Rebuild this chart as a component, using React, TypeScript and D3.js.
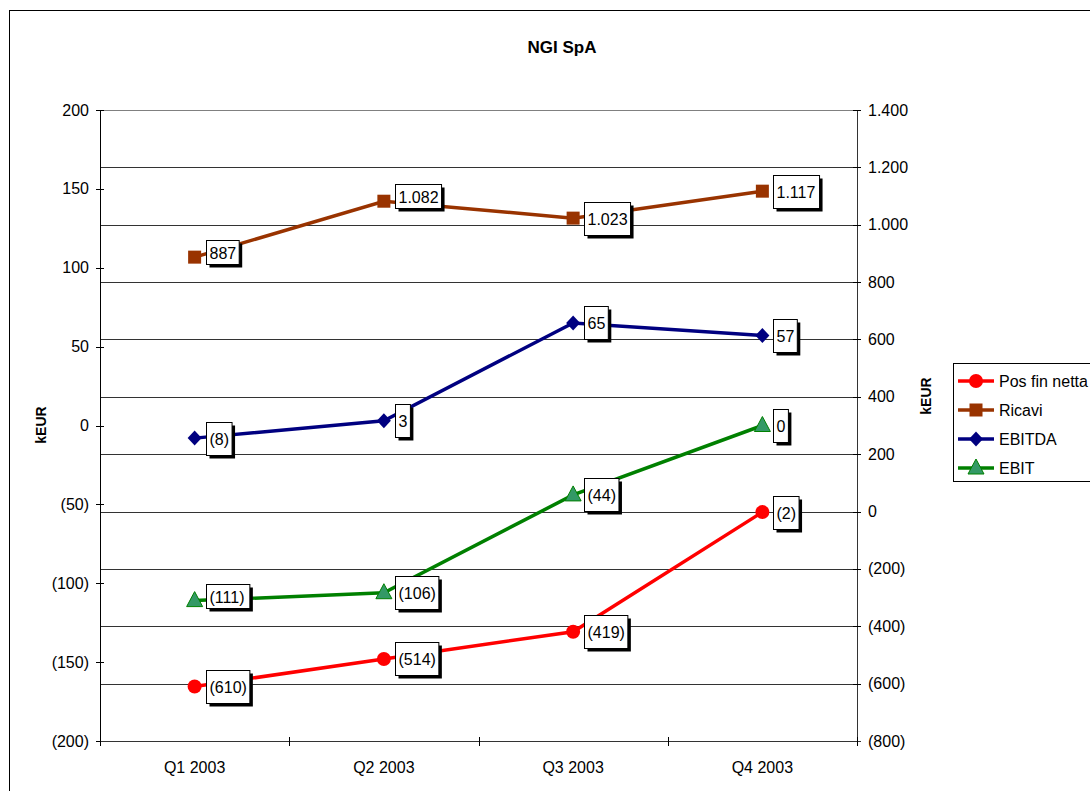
import React from "react";
import * as d3 from "d3";

const categories = ["Q1 2003", "Q2 2003", "Q3 2003", "Q4 2003"];
const posFinNetta = [-610, -514, -419, -2];
const ricavi = [887, 1082, 1023, 1117];
const ebitda = [-8, 3, 65, 57];
const ebit = [-111, -106, -44, 0];
const leftTicks = [200, 150, 100, 50, 0, -50, -100, -150, -200];
const rightTicks = [1400, 1200, 1000, 800, 600, 400, 200, 0, -200, -400, -600, -800];

const FONT = "'Liberation Sans', Arial, sans-serif";
// labels whose box is drawn compact (as in the reference rendering)
const COMPACT = new Set(["Ricavi-0", "Ricavi-1", "EBIT-0"]);

function fmt(v: number): string {
  const a = Math.abs(v);
  const s = d3.format(",")(a).replace(/,/g, ".");
  return v < 0 ? `(${s})` : s;
}

function textWidth(s: string): number {
  let w = 0;
  for (const ch of s) {
    if (ch >= "0" && ch <= "9") w += 8.9;
    else if (ch === "(" || ch === ")") w += 5.33;
    else if (ch === ".") w += 4.45;
    else w += 8.9;
  }
  return w;
}

const series = [
  { name: "Pos fin netta", values: posFinNetta, axis: "right", color: "#FF0000", marker: "circle", fill: "#FF0000" },
  { name: "Ricavi", values: ricavi, axis: "right", color: "#993300", marker: "square", fill: "#993300" },
  { name: "EBITDA", values: ebitda, axis: "left", color: "#000080", marker: "diamond", fill: "#000080" },
  { name: "EBIT", values: ebit, axis: "left", color: "#008000", marker: "triangle", fill: "#339966" },
];

function Marker({ type, x, y, color, fill }: { type: string; x: number; y: number; color: string; fill: string }) {
  if (type === "circle") return <circle cx={x} cy={y} r={7} fill={fill} />;
  if (type === "square") return <rect x={x - 6.5} y={y - 6.5} width={13} height={13} fill={fill} />;
  if (type === "diamond")
    return <path d={`M${x},${y - 7.5}L${x + 7},${y}L${x},${y + 7.5}L${x - 7},${y}Z`} fill={fill} />;
  return (
    <path
      d={`M${x},${y - 9}L${x + 8},${y + 6}L${x - 8},${y + 6}Z`}
      fill={fill}
      stroke={color}
      strokeWidth={1}
    />
  );
}

export default function App() {
  const left = 100, right = 857, top = 110, bottom = 741;
  const x = d3.scaleBand<string>().domain(categories).range([left, right]);
  const yL = d3.scaleLinear().domain([-200, 200]).range([bottom, top]);
  const yR = d3.scaleLinear().domain([-800, 1400]).range([bottom, top]);
  const cx = (c: string) => (x(c) as number) + x.bandwidth() / 2;
  const boundaries = categories.map((c) => x(c) as number).concat([right]);

  return (
    <svg width={1090} height={791} style={{ position: "absolute", left: 0, top: 0, fontFamily: FONT }}>
      <rect x={0} y={0} width={1090} height={791} fill="#fff" />
      <rect x={9.5} y={10.5} width={1200} height={900} fill="#fff" stroke="#000" strokeWidth={1} />
      <text x={562} y={53} textAnchor="middle" fontSize={17} fontWeight="bold">NGI SpA</text>

      {/* gridlines (secondary axis) */}
      {rightTicks.map((t) => (
        <line key={"g" + t} x1={left} x2={right} y1={Math.round(yR(t)) + 0.5} y2={Math.round(yR(t)) + 0.5}
          stroke={t === 1400 ? "#808080" : "#333"} strokeWidth={1} />
      ))}

      {/* left axis */}
      <line x1={left + 0.5} x2={left + 0.5} y1={top} y2={bottom} stroke="#000" />
      {leftTicks.map((t) => (
        <g key={"l" + t}>
          <line x1={96} x2={104} y1={Math.round(yL(t)) + 0.5} y2={Math.round(yL(t)) + 0.5} stroke="#000" />
          <text x={89} y={yL(t) + 5.5} textAnchor="end" fontSize={16}>{fmt(t)}</text>
        </g>
      ))}
      {/* right axis */}
      <line x1={right + 0.5} x2={right + 0.5} y1={top} y2={bottom} stroke="#333" />
      {rightTicks.map((t) => (
        <g key={"r" + t}>
          <line x1={853} x2={861} y1={Math.round(yR(t)) + 0.5} y2={Math.round(yR(t)) + 0.5} stroke="#000" />
          <text x={868} y={yR(t) + 5.5} textAnchor="start" fontSize={16}>{fmt(t)}</text>
        </g>
      ))}
      {/* bottom axis */}
      <line x1={left} x2={right + 4} y1={bottom + 0.5} y2={bottom + 0.5} stroke="#333" />
      {boundaries.map((b, i) => (
        <line key={"b" + i} x1={Math.round(b) + 0.5} x2={Math.round(b) + 0.5} y1={bottom - 4} y2={bottom + 5} stroke="#000" />
      ))}
      {categories.map((c) => (
        <text key={c} x={cx(c)} y={773} textAnchor="middle" fontSize={16}>{c}</text>
      ))}

      {/* axis titles */}
      <text transform={`translate(46,425) rotate(-90)`} textAnchor="middle" fontSize={14} fontWeight="bold">kEUR</text>
      <text transform={`translate(931,396) rotate(-90)`} textAnchor="middle" fontSize={14} fontWeight="bold">kEUR</text>

      {/* series */}
      {series.map((s) => {
        const y = s.axis === "left" ? yL : yR;
        const line = d3.line<number>().x((_, i) => cx(categories[i])).y((v) => y(v));
        return (
          <g key={s.name}>
            <path d={line(s.values) || ""} fill="none" stroke={s.color} strokeWidth={3.5} />
            {s.values.map((v, i) => (
              <Marker key={i} type={s.marker} x={cx(categories[i])} y={y(v)} color={s.color} fill={s.fill} />
            ))}
          </g>
        );
      })}
      {/* data labels */}
      {series.map((s) => {
        const y = s.axis === "left" ? yL : yR;
        return (
          <g key={"lab" + s.name}>
            {s.values.map((v, i) => {
              const label = fmt(v);
              const w = textWidth(label) + 6;
              const compact = COMPACT.has(`${s.name}-${i}`);
              const py = y(v);
              const h = compact ? 24 : 33;
              const bx = Math.round(cx(categories[i]) + 11) + 0.5;
              const by = compact ? Math.round(py - 17) + 0.5 : Math.round(py - h / 2) + 0.5;
              const ty = compact ? by + 18 : by + h / 2 + 5.5;
              return (
                <g key={i}>
                  <rect x={bx + 3} y={by + 3} width={w} height={h} fill="#000" />
                  <rect x={bx} y={by} width={w} height={h} fill="#fff" stroke="#000" strokeWidth={1} />
                  <text x={bx + 3} y={ty} fontSize={16}>{label}</text>
                </g>
              );
            })}
          </g>
        );
      })}

      {/* legend */}
      <rect x={953.5} y={363.5} width={200} height={118} fill="#fff" stroke="#000" />
      {series.map((s, i) => {
        const ly = 381 + i * 29;
        return (
          <g key={"leg" + s.name}>
            <line x1={958} x2={994} y1={ly} y2={ly} stroke={s.color} strokeWidth={3.5} />
            <Marker type={s.marker} x={976} y={ly} color={s.color} fill={s.fill} />
            <text x={999} y={ly + 6} fontSize={16}>{s.name}</text>
          </g>
        );
      })}
    </svg>
  );
}
